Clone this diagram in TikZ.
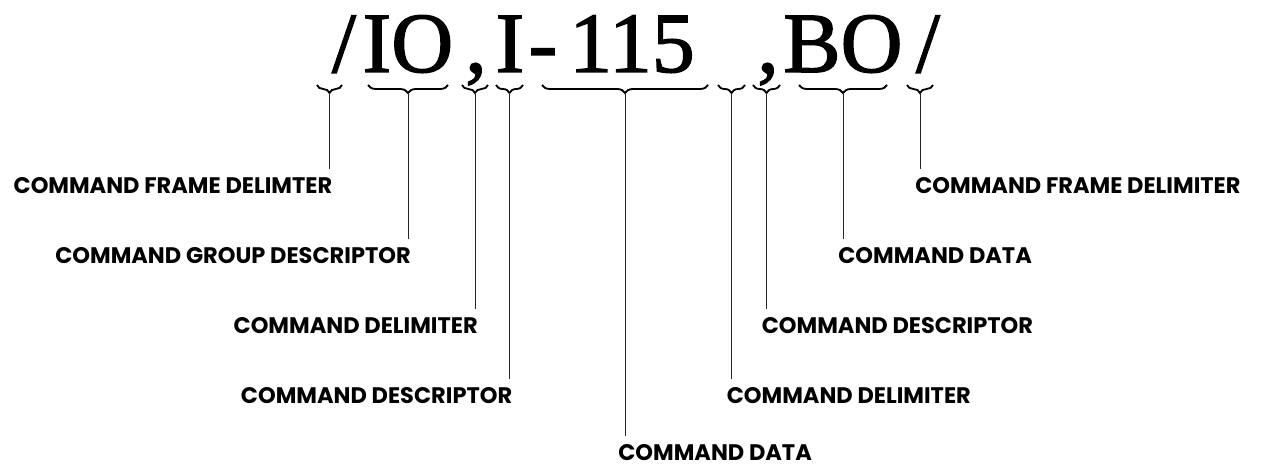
\documentclass[tikz,border=0pt]{standalone}
\usepackage{fontspec}
\setmainfont{Liberation Serif}
\newfontfamily\strfont{Liberation Serif}[FakeBold=1.6]
\newfontfamily\lblfont{Poppins}
\usetikzlibrary{
  calc,
  positioning,
  decorations.pathreplacing
}

\begin{document}
\begin{tikzpicture}[
  x=0.025cm, y=-0.025cm,
  glyph/.style={anchor=base, inner sep=0pt, font=\strfont\fontsize{61}{61}\selectfont},
  lbl/.style={inner sep=0pt, font=\lblfont\bfseries\fontsize{16}{16}\selectfont},
  grp/.style={decorate, decoration={brace, mirror, amplitude=0.2cm}, line width=1.3pt},
  lead/.style={line width=0.6pt, black!85}
]
\useasboundingbox (0,0) rectangle (1261,466);

% the command string
\node[glyph] (slashA) at (344,72) {/};
\node[glyph] (grpIO) at (408,72) {IO};
\node[glyph] (commaA) at (476,72) {,};
\node[glyph] (cmdI) at (510,72) {I};
\node[glyph] (dash) at (543,72) {-};
\node[glyph] (num) at (632,72) {115};
\node[glyph] (commaB) at (768,72) {,};
\node[glyph] (grpBO) at (843,72) {BO};
\node[glyph] (slashB) at (928,72) {/};

% braces, tip coordinates t1..t9
\foreach \a/\b/\n in {317/342/1, 368/448/2, 462/488/3, 496/523/4, 542/708/5,
                      718/745/6, 753/780/7, 799/887/8, 907/933/9} {
  \draw[grp] (\a,85) -- (\b,85);
  \coordinate (t\n) at ({(\a+\b)/2},93);
}

% labels left
\node[lbl, anchor=north east] (frameL) at ($(t1 |- 0,177)+(3,0)$) {COMMAND FRAME DELIMTER};
\node[lbl, anchor=north east] (groupL) at ($(t2 |- 0,247)+(3,0)$) {COMMAND GROUP DESCRIPTOR};
\node[lbl, anchor=north east] (delimL) at ($(t3 |- 0,317)+(3,0)$) {COMMAND DELIMITER};
\node[lbl, anchor=north east] (descL) at ($(t4 |- 0,387)+(3,0)$) {COMMAND DESCRIPTOR};

% labels right
\node[lbl, anchor=north west] (dataB) at ($(t5 |- 0,444)+(-7,0)$) {COMMAND DATA};
\node[lbl, anchor=north west] (delimR) at ($(t6 |- 0,387)+(-5,0)$) {COMMAND DELIMITER};
\node[lbl, anchor=north west] (descR) at ($(t7 |- 0,317)+(-5,0)$) {COMMAND DESCRIPTOR};
\node[lbl, anchor=north west] (dataR) at ($(t8 |- 0,247)+(-5,0)$) {COMMAND DATA};
\node[lbl, anchor=north west] (frameR) at ($(t9 |- 0,177)+(-5,0)$) {COMMAND FRAME DELIMITER};

% leader lines
\draw[lead] (t1) -- ($(t1 |- frameL.north)+(0,-8)$);
\draw[lead] (t2) -- ($(t2 |- groupL.north)+(0,-8)$);
\draw[lead] (t3) -- ($(t3 |- delimL.north)+(0,-8)$);
\draw[lead] (t4) -- ($(t4 |- descL.north)+(0,-8)$);
\draw[lead] (t5) -- ($(t5 |- dataB.north)+(0,-8)$);
\draw[lead] (t6) -- ($(t6 |- delimR.north)+(0,-8)$);
\draw[lead] (t7) -- ($(t7 |- descR.north)+(0,-8)$);
\draw[lead] (t8) -- ($(t8 |- dataR.north)+(0,-8)$);
\draw[lead] (t9) -- ($(t9 |- frameR.north)+(0,-8)$);
\end{tikzpicture}
\end{document}
